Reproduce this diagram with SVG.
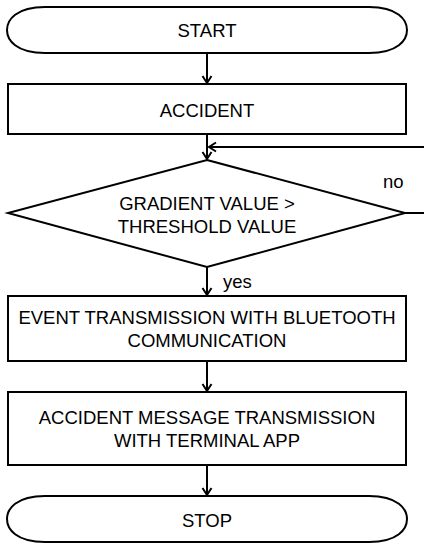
<svg xmlns="http://www.w3.org/2000/svg" width="424" height="544" viewBox="0 0 424 544">
<style>
.s{fill:#fff;stroke:#000;stroke-width:2}
.t{font-family:"Liberation Sans",Arial,sans-serif;font-size:18.5px;fill:#000;text-anchor:middle}
.l{font-family:"Liberation Sans",Arial,sans-serif;font-size:18.5px;fill:#000}
.c{fill:none;stroke:#000;stroke-width:2}
</style>
<defs>
<marker id="a" markerWidth="12" markerHeight="12" refX="10" refY="6" orient="auto" markerUnits="userSpaceOnUse">
<polyline points="3,1.5 10,6 3,10.5" fill="none" stroke="#000" stroke-width="2"/>
</marker>
</defs>
<rect width="424" height="544" fill="#fff"/>
<g id="connectors">
<line class="c" x1="207" y1="53" x2="207" y2="83" marker-end="url(#a)"/>
<line class="c" x1="207" y1="134" x2="207" y2="159" marker-end="url(#a)"/>
<polyline class="c" points="405,213 424,213"/>
<line class="c" x1="424" y1="147" x2="209" y2="147" marker-end="url(#a)"/>
<line class="c" x1="207" y1="267" x2="207" y2="295" marker-end="url(#a)"/>
<line class="c" x1="207" y1="361" x2="207" y2="391" marker-end="url(#a)"/>
<line class="c" x1="207" y1="465" x2="207" y2="495" marker-end="url(#a)"/>
<text class="l" x="383" y="188">no</text>
<text class="l" x="223" y="288">yes</text>
</g>
<g id="start">
<path class="s" d="M45,7 H369 C398,7 407,20 407,30 C407,40 398,53 369,53 H45 C16,53 7,40 7,30 C7,20 16,7 45,7 Z"/>
<text class="t" x="207" y="37">START</text>
</g>
<g id="accident">
<rect class="s" x="8" y="84" width="398" height="50"/>
<text class="t" x="207" y="117">ACCIDENT</text>
</g>
<g id="decision">
<polygon class="s" points="207,160 405,213 207,267 8,213"/>
<text class="t" x="207" y="210">GRADIENT VALUE &gt;</text>
<text class="t" x="207" y="233">THRESHOLD VALUE</text>
</g>
<g id="event">
<rect class="s" x="8" y="296" width="398" height="65"/>
<text class="t" x="207" y="324">EVENT TRANSMISSION WITH BLUETOOTH</text>
<text class="t" x="207" y="347">COMMUNICATION</text>
</g>
<g id="message">
<rect class="s" x="8" y="392" width="398" height="73"/>
<text class="t" x="207" y="424">ACCIDENT MESSAGE TRANSMISSION</text>
<text class="t" x="207" y="447">WITH TERMINAL APP</text>
</g>
<g id="stop">
<path class="s" d="M45,496 H369 C398,496 407,509 407,519 C407,529 398,542 369,542 H45 C16,542 7,529 7,519 C7,509 16,496 45,496 Z"/>
<text class="t" x="207" y="527">STOP</text>
</g>
</svg>
